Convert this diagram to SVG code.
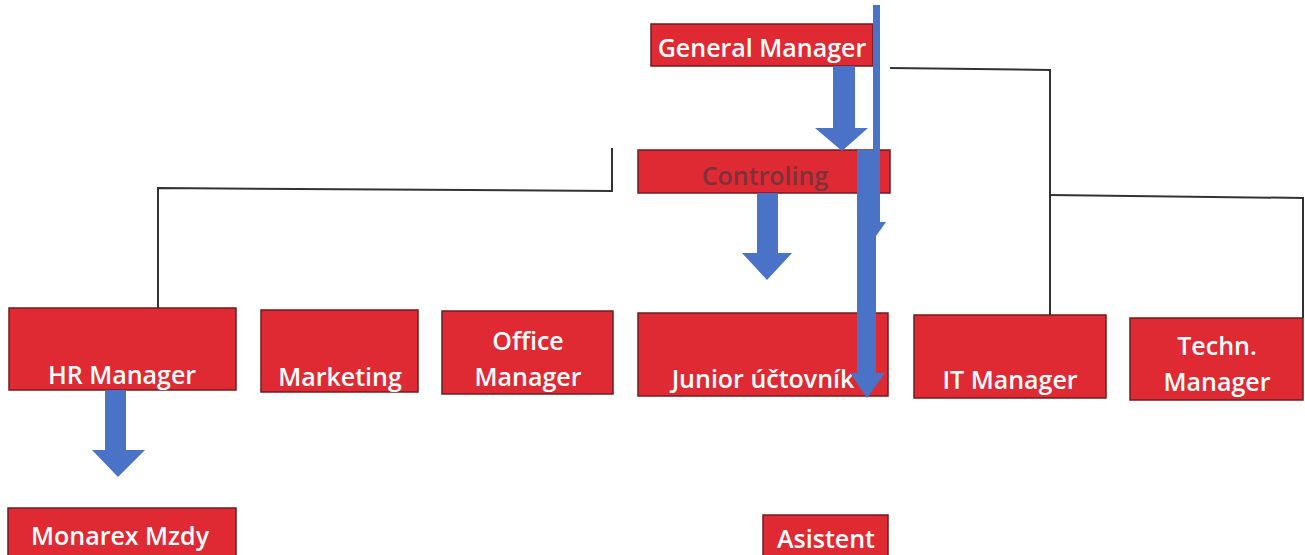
<svg xmlns="http://www.w3.org/2000/svg" width="1305" height="555" viewBox="0 0 1305 555">
<style>
.box{fill:#df2a34;stroke:#6e1e22;stroke-width:1.5}
.t{font-family:"Open Sans","Liberation Sans",sans-serif;font-weight:600;font-size:25px;fill:#ffffff;text-anchor:middle}
.dark{fill:#7c3238}
.ln{fill:none;stroke:#333333;stroke-width:2}
.ar{fill:#4a73c8}
</style>
<rect width="1305" height="555" fill="#ffffff"/>
<g id="node-general-manager"><rect class="box" x="651" y="24" width="222" height="42"/><text class="t" x="762" y="57">General Manager</text></g>
<g id="node-controling"><rect class="box" x="638" y="150" width="252" height="43"/><text class="t dark" x="765" y="185">Controling</text></g>
<g id="node-hr-manager"><rect class="box" x="9" y="308" width="227" height="82"/><text class="t" x="122" y="384">HR Manager</text></g>
<g id="node-marketing"><rect class="box" x="261" y="310" width="157" height="82"/><text class="t" x="340" y="386">Marketing</text></g>
<g id="node-office-manager"><rect class="box" x="442" y="311" width="171" height="83"/><text class="t" x="528" y="350">Office</text><text class="t" x="528" y="386">Manager</text></g>
<g id="node-junior"><rect class="box" x="638" y="313" width="250" height="83"/><text class="t" x="763" y="388">Junior účtovník</text></g>
<g id="node-it-manager"><rect class="box" x="914" y="315" width="192" height="83"/><text class="t" x="1010" y="389">IT Manager</text></g>
<g id="node-techn-manager"><rect class="box" x="1130" y="318" width="173" height="82"/><text class="t" x="1217" y="355">Techn.</text><text class="t" x="1217" y="391">Manager</text></g>
<g id="node-monarex"><rect class="box" x="8" y="508" width="228" height="50"/><text class="t" x="120" y="545">Monarex Mzdy</text></g>
<g id="node-asistent"><rect class="box" x="763" y="515" width="125" height="45"/><text class="t" x="826" y="548">Asistent</text></g>
<g id="connectors">
<polyline class="ln" points="612,148 612,191 158,188 158,308"/>
<polyline class="ln" points="890,68 1050,70 1050,315"/>
<polyline class="ln" points="1050,195 1303,198 1303,318"/>
<polygon class="ar" points="833,66 855,66 855,128 868,128 842,151 815,128 833,128"/>
<polygon class="ar" points="757,193 778,193 778,253 792,253 767,280 742,253 757,253"/>
<polygon class="ar" points="105,390 126,390 126,450 145,450 118,477 92,450 105,450"/>
<polygon class="ar" points="873,5 880,5 880,222 886,222 876,236 866,222 873,222"/>
<polygon class="ar" points="857,150 876,150 876,373 885,373 867,398 850,373 857,373"/>
</g>
</svg>
